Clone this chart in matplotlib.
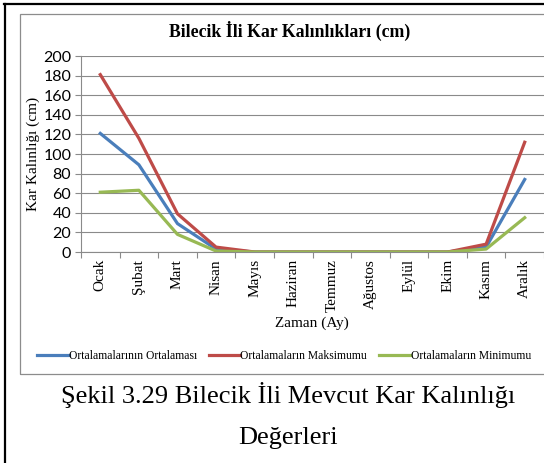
import matplotlib
matplotlib.use("Agg")
import matplotlib.pyplot as plt
from matplotlib.patches import Rectangle
from matplotlib.lines import Line2D

months = ["Ocak", "Şubat", "Mart", "Nisan", "Mayıs", "Haziran", "Temmuz",
          "Ağustos", "Eylül", "Ekim", "Kasım", "Aralık"]
ortalama = [121, 89, 29, 3, 0, 0, 0, 0, 0, 0, 5, 74]
maksimum = [181, 116, 39, 5, 0, 0, 0, 0, 0, 0, 8, 112]
minimum = [61, 63, 18, 1, 0, 0, 0, 0, 0, 0, 3, 35]
series_names = ["Ortalamalarının Ortalaması", "Ortalamaların Maksimumu", "Ortalamaların Minimumu"]
colors = ["#4A7EBB", "#BE4B48", "#98B954"]

W, H = 544, 463
fig = plt.figure(figsize=(W / 100, H / 100), dpi=100)
serif = "Liberation Serif"

# outer frame lines (page border)
fig.add_artist(Line2D([4 / W, 1], [1 - 4 / H, 1 - 4 / H], color="black", lw=1.6))
fig.add_artist(Line2D([5 / W, 5 / W], [0, 1 - 4 / H], color="black", lw=1.6))
# chart box
fig.add_artist(Rectangle((19.5 / W, 1 - 374 / H), (W - 19) / W + 0.01, (374 - 13.5) / H,
                         fill=False, ec="#8c8c8c", lw=0.9))

ax = fig.add_axes([81 / W, 1 - 252 / H, (W - 81) / W, (252 - 56) / H])
x = list(range(len(months)))
for vals, c, name in zip([ortalama, maksimum, minimum], colors, series_names):
    ax.plot(x, vals, color=c, lw=2.3, label=name, solid_joinstyle="round")

ax.set_xlim(-0.5, 11.5)
ax.set_ylim(0, 200)
ax.set_yticks(range(0, 201, 20))
ax.yaxis.grid(True, color="#8a8a8a", lw=0.8)
ax.set_axisbelow(True)
for s in ["top", "right"]:
    ax.spines[s].set_visible(False)
for s in ["left", "bottom"]:
    ax.spines[s].set_color("#8a8a8a")
    ax.spines[s].set_linewidth(0.8)

ax.set_xticks([i - 0.5 for i in range(13)])
ax.set_xticklabels([])
ax.set_xticks(x, minor=True)
ax.set_xticklabels(months, minor=True, rotation=90, fontfamily=serif, fontsize=11)
ax.tick_params(axis="x", which="major", length=4, color="#8a8a8a", width=0.8, direction="out")
ax.tick_params(axis="x", which="minor", length=0, pad=5)
ax.tick_params(axis="y", length=4, color="#8a8a8a", width=0.8, pad=3)
for lab in ax.get_yticklabels():
    lab.set_fontfamily("Lato")
    lab.set_fontsize(11.5)

fig.text(33 / W, 1 - 154 / H, "Kar Kalınlığı (cm)", fontfamily=serif, fontsize=11,
         rotation=90, ha="center", va="center")
fig.text(312 / W, 1 - 323 / H, "Zaman (Ay)", fontfamily=serif, fontsize=11,
         ha="center", va="center")
fig.text(290 / W, 1 - 31 / H, "Bilecik İli Kar Kalınlıkları (cm)", fontfamily=serif,
         fontsize=12.8, fontweight="bold", ha="center", va="center")

fig.legend(loc="center left", bbox_to_anchor=(37 / W, 1 - 356 / H), ncol=3, frameon=False,
           prop={"family": serif, "size": 8.4}, handlelength=2.7, handletextpad=0.02,
           columnspacing=1.0, borderaxespad=0, borderpad=0)

fig.text(288 / W, 1 - 395 / H, "Şekil 3.29 Bilecik İli Mevcut Kar Kalınlığı",
         fontfamily=serif, fontsize=19, ha="center", va="center")
fig.text(288 / W, 1 - 438 / H, "Değerleri", fontfamily=serif, fontsize=19,
         ha="center", va="center")

fig.savefig("out.png", dpi=100)
